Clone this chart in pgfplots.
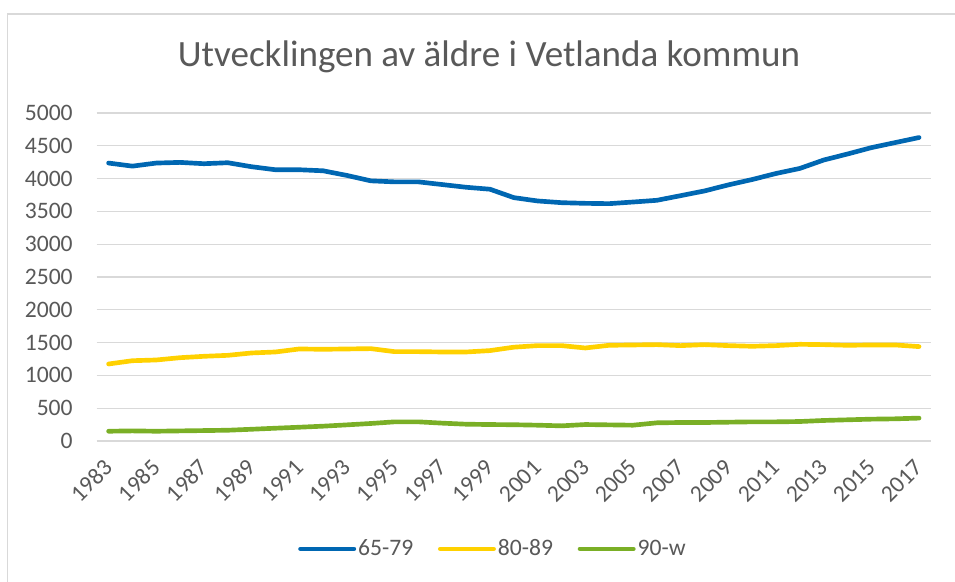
\documentclass[border=0pt]{standalone}
\usepackage{pgfplots}
\pgfplotsset{compat=1.18}
\usepackage{pgfplotstable}
\usepackage{fontspec}
\setmainfont{Carlito}
\definecolor{cblue}{RGB}{0,103,178}
\definecolor{cyellow}{RGB}{255,209,0}
\definecolor{cgreen}{RGB}{122,175,38}
\definecolor{cgrid}{RGB}{217,217,217}
\definecolor{ctext}{RGB}{89,89,89}
\pgfplotstableread{
year a b c
1983 4237 1174 149
1984 4190 1224 154
1985 4237 1235 149
1986 4247 1270 154
1987 4227 1291 159
1988 4242 1306 164
1989 4181 1342 179
1990 4135 1357 195
1991 4135 1403 210
1992 4119 1398 226
1993 4048 1403 246
1994 3966 1408 267
1995 3950 1362 292
1996 3950 1362 292
1997 3909 1357 272
1998 3868 1357 256
1999 3838 1378 251
2000 3710 1430 248
2001 3659 1454 241
2002 3633 1454 231
2003 3623 1418 251
2004 3618 1459 246
2005 3643 1464 241
2006 3669 1469 277
2007 3740 1454 282
2008 3812 1469 282
2009 3904 1454 287
2010 3986 1444 292
2011 4078 1454 292
2012 4155 1474 297
2013 4283 1469 313
2014 4375 1459 323
2015 4472 1464 333
2016 4549 1464 338
2017 4626 1439 349
}\datatable
\begin{document}
\begin{tikzpicture}
\useasboundingbox (0,0) rectangle (716.25pt,435.75pt);
\draw[cgrid, line width=1pt] (5.6pt,-2pt) -- (5.6pt,425.25pt) -- (720pt,425.25pt);
\node[anchor=base, text=ctext, font=\fontsize{27.8}{32}\selectfont, inner sep=0pt] at (366.75pt,385.7pt) {Utvecklingen av äldre i Vetlanda kommun};
\begin{axis}[
  at={(72.5pt,105pt)}, anchor=south west,
  scale only axis, width=625.7pt, height=246pt,
  xmin=1982.5, xmax=2017.5, ymin=0, ymax=5000,
  xtick={1983,1985,...,2017},
  ytick={0,500,...,5000},
  axis line style={draw=none},
  axis x line*=bottom,
  major tick length=0pt,
  ymajorgrids, grid style={cgrid, line width=0.8pt},
  /pgf/number format/assume math mode=true,
  /pgf/number format/1000 sep={},
  tick label style={text=ctext, font=\fontsize{17.7}{20}\selectfont},
  yticklabel style={anchor=east, inner sep=0pt, xshift=-17.8pt},
  xticklabel style={inner sep=0pt, yshift=-17pt, rotate=45, anchor=east},
  legend style={at={(0.475,-0.329)}, anchor=center, legend columns=3, draw=none,
    font=\fontsize{17.7}{20}\selectfont, text=ctext,
    nodes={inner sep=1.5pt},
    /tikz/every odd column/.append style={column sep=0pt},
    /tikz/every even column/.append style={column sep=17pt}},
  legend image code/.code={\draw[#1, line cap=round] (0pt,0pt) -- (40pt,0pt);},
  every axis plot/.append style={line width=3.5pt, line cap=round, line join=round, mark=none},
]
\addplot[cblue] table[x=year,y=a] {\datatable};
\addplot[cyellow] table[x=year,y=b] {\datatable};
\addplot[cgreen] table[x=year,y=c] {\datatable};
\legend{65-79,80-89,90-w}
\end{axis}
\end{tikzpicture}
\end{document}
